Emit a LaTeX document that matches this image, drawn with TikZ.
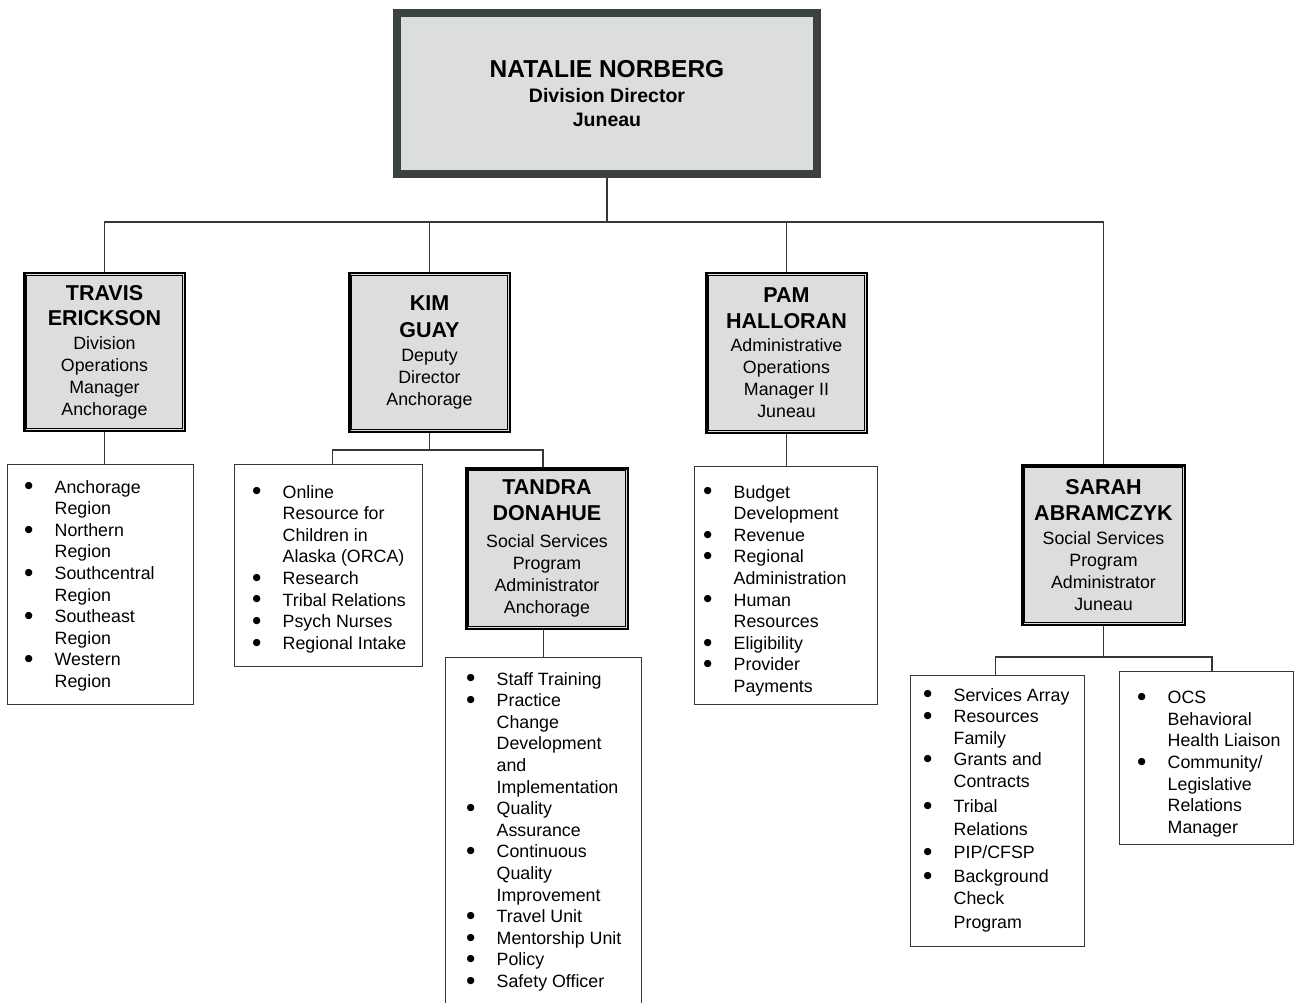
\documentclass[tikz,border=0pt]{standalone}
\usepackage{fontspec}
\setmainfont{Liberation Sans}
\newfontfamily\symf{DejaVu Sans}
\usetikzlibrary{calc}
\definecolor{boxfill}{RGB}{220,221,221}
\definecolor{topframe}{RGB}{59,65,65}
\definecolor{wirecol}{RGB}{55,55,55}
\newcommand\bl{\makebox[30pt][l]{\raisebox{4.3pt}{\symf\fontsize{9.5}{10}\selectfont ●}}}
\newcommand\ind{\hspace*{30pt}}
\newcommand\nm[1]{{\fontsize{21.5}{25}\selectfont\bfseries #1}}
\newcommand\tnm[1]{{\fontsize{24.5}{25}\selectfont\bfseries #1}}
\newcommand\innerframe[1]{\draw[line width=0.8pt] ($(#1.north west)+(3.5,3.5)$) rectangle ($(#1.south east)+(-3.5,-3.5)$);}
\begin{document}
\begin{tikzpicture}[x=1pt,y=-1pt,
  topbox/.style={draw=topframe, line width=8pt, fill=boxfill, inner sep=0pt, align=center, font=\fontsize{19.5}{24.5}\selectfont\bfseries},
  person/.style={draw=black, line width=2.5pt, fill=boxfill, inner sep=0pt, align=center, font=\fontsize{17.8}{22}\selectfont},
  listbox/.style={draw=wirecol, line width=1.2pt, inner sep=0pt, anchor=north west},
  listtext/.style={inner sep=0pt, align=left, anchor=north west, font=\fontsize{17.8}{21.6}\selectfont},
  wire/.style={draw=wirecol, line width=1.4pt}]
\useasboundingbox[fill=white] (0,0) rectangle (1294,1003);

% top
\node[topbox, minimum width=420, minimum height=161] (nn) at (607,93.5)
  {\tnm{NATALIE NORBERG}\\[0.5pt]Division Director\\Juneau};

% second level
\node[person, minimum width=160.5, minimum height=157.5] (te) at (104.5,352)
  {\nm{TRAVIS}\\[3pt]\nm{ERICKSON}\\[2pt]Division\\Operations\\Manager\\Anchorage};
\innerframe{te}
\node[person, minimum width=160.5, minimum height=158.5] (kg) at (429.5,352.5)
  {\nm{KIM}\\[5pt]\nm{GUAY}\\[2pt]Deputy\\Director\\Anchorage};
\innerframe{kg}
\node[person, minimum width=160.5, minimum height=159.5] (ph) at (786.5,353)
  {\nm{PAM}\\[4pt]\nm{HALLORAN}\\[1pt]Administrative\\Operations\\Manager II\\Juneau};
\innerframe{ph}
\node[person, minimum width=161.5, minimum height=160.5] (td) at (547,548.5)
  {\nm{TANDRA}\\[4pt]\nm{DONAHUE}\\[5pt]Social Services\\Program\\Administrator\\Anchorage};
\innerframe{td}
\node[person, minimum width=162.5, minimum height=159.5] (sa) at (1103.5,545)
  {\nm{SARAH}\\[4pt]\nm{ABRAMCZYK}\\[2pt]Social Services\\Program\\Administrator\\Juneau};
\innerframe{sa}

% list boxes
\node[listbox, minimum width=186, minimum height=240] (tl) at (7,464) {};
\node[listbox, minimum width=188, minimum height=202] (kl) at (234,464) {};
\node[listbox, minimum width=196, minimum height=353] (dl) at (445,657) {};
\node[listbox, minimum width=183, minimum height=238] (pl) at (694,466) {};
\node[listbox, minimum width=174, minimum height=271] (sl) at (910,675) {};
\node[listbox, minimum width=174, minimum height=173] (sr) at (1119,671) {};

\node[listtext] (tlt) at (24.5,480)
  {\bl Anchorage\\\ind Region\\\bl Northern\\\ind Region\\\bl Southcentral\\\ind Region\\\bl Southeast\\\ind Region\\\bl Western\\\ind Region};
\node[listtext] (klt) at (252.5,485)
  {\bl Online\\\ind Resource for\\\ind Children in\\\ind Alaska (ORCA)\\\bl Research\\\bl Tribal Relations\\\bl Psych Nurses\\\bl Regional Intake};
\node[listtext] (dlt) at (466.5,672)
  {\bl Staff Training\\\bl Practice\\\ind Change\\\ind Development\\\ind and\\\ind Implementation\\\bl Quality\\\ind Assurance\\\bl Continuous\\\ind Quality\\\ind Improvement\\\bl Travel Unit\\\bl Mentorship Unit\\\bl Policy\\\bl Safety Officer};
\node[listtext] (plt) at (703.5,485)
  {\bl Budget\\\ind Development\\\bl Revenue\\\bl Regional\\\ind Administration\\\bl Human\\\ind Resources\\\bl Eligibility\\\bl Provider\\\ind Payments};
\node[listtext] (slt) at (923.5,688)
  {\bl Services Array\\\bl Resources\\\ind Family\\\bl Grants and\\\ind Contracts\\[3.4pt]\bl Tribal\\[1.4pt]\ind Relations\\[1.4pt]\bl PIP/CFSP\\[2.4pt]\bl Background\\\ind Check\\[2.4pt]\ind Program};
\node[listtext] (srt) at (1137.5,691)
  {\bl OCS\\\ind Behavioral\\\ind Health Liaison\\\bl Community/\\\ind Legislative\\\ind Relations\\\ind Manager};

% connectors
\coordinate (bus) at (608,222);
\coordinate (kbus) at (430,450);
\coordinate (sbus) at (1104,657);
\draw[wire] (nn.south) -- (nn.south |- bus);
\draw[wire] (te.north) -- (te.north |- bus) -- (sa.north |- bus) -- (sa.north);
\draw[wire] (kg.north |- bus) -- (kg.north);
\draw[wire] (ph.north |- bus) -- (ph.north);
\draw[wire] (te.south) -- (te.south |- tl.north);
\draw[wire] (kg.south) -- (kg.south |- kbus);
\draw[wire] ([xshift=4pt]kl.north) |- (kbus) -| ([xshift=-4pt]td.north);
\draw[wire] (dl.north) -- (dl.north |- td.south);
\draw[wire] (ph.south) -- (ph.south |- pl.north);
\draw[wire] (sa.south) -- (sa.south |- sbus);
\draw[wire] ([xshift=-2pt]sl.north) |- (sbus) -| ([xshift=5.5pt]sr.north);
\end{tikzpicture}
\end{document}
